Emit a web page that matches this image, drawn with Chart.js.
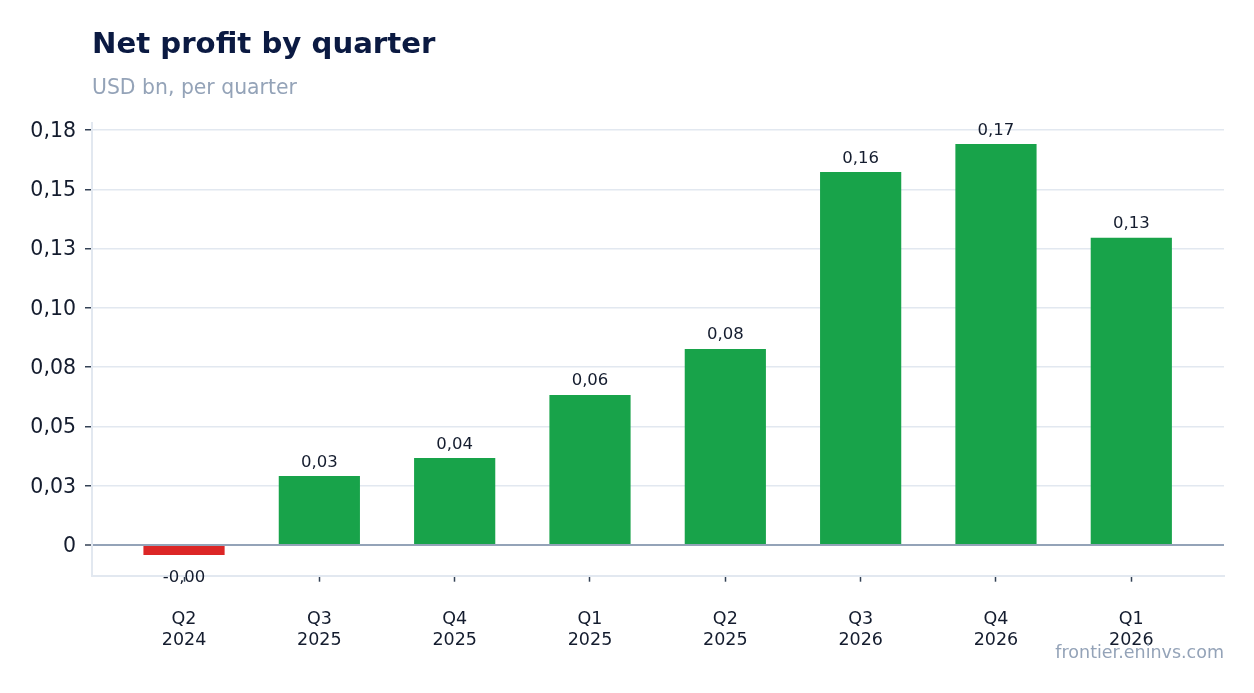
<!DOCTYPE html>
<html>
<head>
<meta charset="utf-8">
<script src="https://cdn.jsdelivr.net/npm/chart.js@4.4.1/dist/chart.umd.min.js"></script>
<style>
  html, body { margin: 0; padding: 0; background: #ffffff; }
  #wrap { position: relative; width: 1254px; height: 693px; overflow: hidden; font-family: 'DejaVu Sans', sans-serif; }
  #c { position: absolute; left: 0; top: 0; }
  .title { position: absolute; left: 92px; top: 28.8px; font-size: 29.2px; line-height: 29.2px; font-weight: bold; color: #0b1a42; white-space: nowrap; }
  .subtitle { position: absolute; left: 92px; top: 76.8px; font-size: 20.4px; line-height: 20.4px; color: #94a3b8; white-space: nowrap; }
  .footer { position: absolute; right: 30px; top: 643.8px; font-size: 17.5px; line-height: 17.5px; color: #94a3b8; white-space: nowrap; }
</style>
</head>
<body>
<div id="wrap">
  <canvas id="c" width="1254" height="693"></canvas>
  <div class="title">Net profit by quarter</div>
  <div class="subtitle">USD bn, per quarter</div>
  <div class="footer">frontier.eninvs.com</div>
</div>
<script>
// ---- data ----
const quarters = ['Q2', 'Q3', 'Q4', 'Q1', 'Q2', 'Q3', 'Q4', 'Q1'];
const years = ['2024', '2025', '2025', '2025', '2025', '2026', '2026', '2026'];
const netProfit = [-0.0042, 0.0291, 0.0367, 0.0633, 0.0827, 0.1573, 0.1691, 0.1296];
const yTickValues = [0, 0.025, 0.05, 0.075, 0.1, 0.125, 0.15, 0.175];
const yTickLabels = ['0', '0,03', '0,05', '0,08', '0,10', '0,13', '0,15', '0,18'];

const GREEN = '#18a34a';
const RED = '#dc2626';
const TEXT = '#141c2e';

function fmt(v) {
  return (v < 0 ? '-' : '') + Math.abs(v).toFixed(2).replace('.', ',');
}

const dataLabels = {
  id: 'dataLabels',
  afterDatasetsDraw(chart) {
    const ctx = chart.ctx;
    const meta = chart.getDatasetMeta(0);
    ctx.save();
    ctx.font = '16.5px "DejaVu Sans"';
    ctx.fillStyle = TEXT;
    ctx.textAlign = 'center';
    ctx.textBaseline = 'alphabetic';
    meta.data.forEach((bar, i) => {
      const v = netProfit[i];
      const y = v >= 0 ? bar.y - 9.5 : bar.y + 27;
      ctx.fillText(fmt(v), bar.x, y);
    });
    ctx.restore();
  }
};

Chart.defaults.font.family = '"DejaVu Sans", sans-serif';

new Chart(document.getElementById('c'), {
  type: 'bar',
  data: {
    datasets: [{
      data: netProfit.map((v, i) => ({ x: i, y: v })),
      backgroundColor: netProfit.map(v => v < 0 ? RED : GREEN),
      borderWidth: 0,
      categoryPercentage: 1,
      barPercentage: 0.6
    }]
  },
  options: {
    responsive: false,
    animation: false,
    devicePixelRatio: 1,
    layout: { padding: { left: 0, right: 30, top: 122.7, bottom: 0 } },
    plugins: {
      legend: { display: false },
      tooltip: { enabled: false },
      title: { display: false }
    },
    scales: {
      x: {
        type: 'linear',
        min: -0.68,
        max: 7.685,
        offset: false,
        afterBuildTicks(scale) {
          scale.ticks = quarters.map((q, i) => ({ value: i }));
        },
        afterFit(scale) { scale.height = 693 - 122.7 - 453; },
        ticks: {
          autoSkip: false,
          maxRotation: 0,
          padding: 27,
          color: TEXT,
          font: { size: 17.5, lineHeight: 1.2 },
          callback(value) {
            const i = Math.round(value);
            return [quarters[i], years[i]];
          }
        },
        grid: {
          offset: false,
          drawOnChartArea: false,
          drawTicks: true,
          tickLength: 6,
          tickColor: '#334155',
          tickWidth: 1.5
        },
        border: { display: true, color: '#e2e8f0', width: 2 }
      },
      y: {
        min: -0.0129,
        max: 0.1781,
        afterBuildTicks(scale) {
          scale.ticks = yTickValues.map(v => ({ value: v }));
        },
        afterFit(scale) { scale.width = 92; },
        ticks: {
          padding: 9,
          labelOffset: 1.5,
          color: TEXT,
          font: { size: 20.5 },
          callback(value) {
            const idx = yTickValues.findIndex(t => Math.abs(t - value) < 1e-9);
            return idx >= 0 ? yTickLabels[idx] : '';
          }
        },
        grid: {
          color: ctx => (ctx.tick && ctx.tick.value === 0) ? '#94a3b8' : '#e2e8f0',
          lineWidth: ctx => (ctx.tick && ctx.tick.value === 0) ? 2 : 1.5,
          drawTicks: true,
          tickLength: 7,
          tickColor: '#334155',
          tickWidth: 1.5
        },
        border: { display: true, color: '#e2e8f0', width: 2 }
      }
    }
  },
  plugins: [dataLabels]
});
</script>
</body>
</html>
